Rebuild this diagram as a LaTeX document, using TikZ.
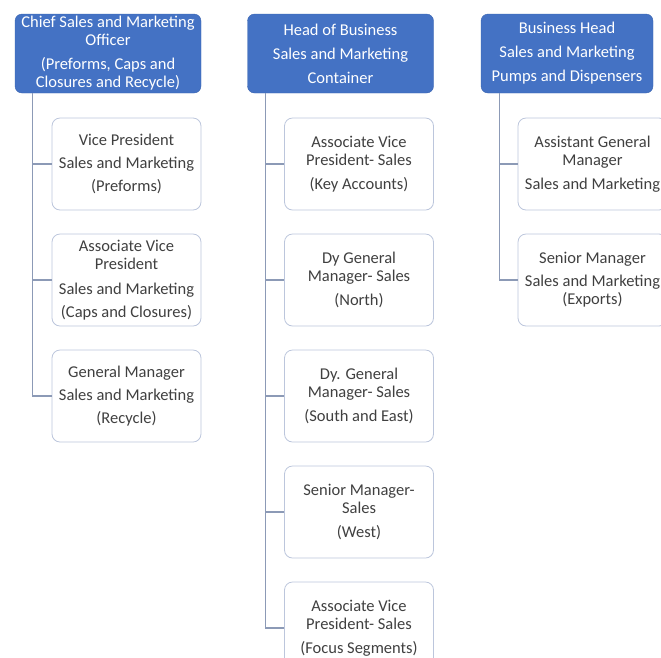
\documentclass[tikz,border=0pt]{standalone}
\usepackage{fontspec}
\setmainfont{Carlito}
\usetikzlibrary{trees}

\definecolor{headblue}{HTML}{4472C4}
\definecolor{headedge}{HTML}{3A64B0}
\definecolor{boxedge}{HTML}{BCC6DC}
\definecolor{boxtext}{HTML}{404040}
\definecolor{linkgray}{HTML}{8C9AB6}

\begin{document}
\begin{tikzpicture}[
    every node/.style={font=\fontsize{16.5}{18}\selectfont},
    head/.style={rectangle,rounded corners=7pt,draw=headedge,fill=headblue,
      text=white,align=center,minimum width=186pt,minimum height=79pt,inner sep=1pt},
    post/.style={rectangle,rounded corners=8pt,draw=boxedge,line width=0.8pt,fill=white,
      text=boxtext,align=center,minimum width=149pt,minimum height=92pt,inner sep=1pt},
    edge from parent/.style={draw=linkgray,line width=1.2pt},
    edge from parent path={(\tikzparentnode.south west) ++(18pt,0) |- (\tikzchildnode.west)},
    level 1/.style={grow via three points={one child at (18.5pt,-110.5pt)
        and two children at (18.5pt,-110.5pt) and (18.5pt,-226.5pt)}}]
  \useasboundingbox (0,0) rectangle (661pt,-657pt);

  % preforms, caps and closures, recycle
  \node[head] (CSMO) at (108pt,-53.5pt)
    {Chief Sales and Marketing\\Officer\\[6pt](Preforms, Caps and\\Closures and Recycle)}
    child { node[post] (VPpre) {Vice President\\[5pt]Sales and Marketing\\[5pt](Preforms)} }
    child { node[post] (AVPcaps) {Associate Vice\\President\\[7pt]Sales and Marketing\\[5pt](Caps and Closures)} }
    child { node[post] (GMrec) {General Manager\\[5pt]Sales and Marketing\\[5pt](Recycle)} };

  % container business
  \node[head] (HoB) at (340.5pt,-53.5pt)
    {Head of Business\\[6pt]Sales and Marketing\\[6pt]Container}
    child { node[post] (AVPkey) {Associate Vice\\President- Sales\\[6pt](Key Accounts)} }
    child { node[post] (DGMnorth) {Dy General\\Manager- Sales\\[6pt](North)} }
    child { node[post] (DGMse) {Dy. General\\Manager- Sales\\[6pt](South and East)} }
    child { node[post] (SMwest) {Senior Manager-\\Sales\\[6pt](West)} }
    child { node[post] (AVPfocus) {Associate Vice\\President- Sales\\[6pt](Focus Segments)} };

  % pumps and dispensers
  \node[head,minimum width=172pt] (BH) at (567pt,-53.5pt)
    {Business Head\\[6pt]Sales and Marketing\\[6pt]Pumps and Dispensers}
    [level 1/.style={grow via three points={one child at (25.5pt,-110.5pt)
        and two children at (25.5pt,-110.5pt) and (25.5pt,-226.5pt)}},
     edge from parent path={(\tikzparentnode.south west) ++(19pt,0) |- (\tikzchildnode.west)}]
    child { node[post] (AGM) {Assistant General\\Manager\\[6pt]Sales and Marketing} }
    child { node[post] (SMexp) {Senior Manager\\[5pt]Sales and Marketing\\(Exports)} };
\end{tikzpicture}
\end{document}
